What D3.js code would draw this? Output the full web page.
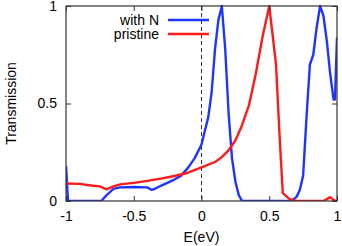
<!DOCTYPE html>
<html><head><meta charset="utf-8">
<script src="https://cdn.jsdelivr.net/npm/d3@7"></script>
<style>body{margin:0;background:#fff}svg{display:block}text{font-family:"Liberation Sans",Arial,sans-serif}</style>
</head><body>
<svg id="c" width="342" height="246"></svg>
<script>
const blueE = [-1.0,-0.985,-0.74,-0.70,-0.65,-0.6,-0.5,-0.4,-0.37,-0.35,-0.3,-0.2,-0.15,-0.1,-0.05,0.0,0.025,0.05,0.075,0.1,0.125,0.15,0.175,0.2,0.225,0.25,0.275,0.3,0.66,0.7,0.725,0.75,0.775,0.8,0.825,0.85,0.875,0.9,0.925,0.95,0.975,0.985,1.0];
const blueT = [0.18,0.0,0.0,0.03,0.062,0.07,0.072,0.07,0.058,0.06,0.078,0.11,0.13,0.17,0.22,0.29,0.36,0.43,0.56,0.78,0.93,1.0,0.78,0.45,0.22,0.1,0.03,0.0,0.0,0.02,0.055,0.13,0.43,0.70,0.75,0.89,1.0,0.95,0.82,0.65,0.52,0.52,0.84];
const redE = [-1.0,-0.9,-0.8,-0.75,-0.7,-0.65,-0.6,-0.5,-0.4,-0.3,-0.2,-0.1,0.0,0.1,0.15,0.2,0.25,0.3,0.35,0.4,0.45,0.5,0.55,0.575,0.6,0.65,0.7,0.9,0.95,0.985,1.0];
const redT = [0.09,0.088,0.078,0.075,0.06,0.075,0.085,0.093,0.103,0.115,0.128,0.145,0.172,0.2,0.225,0.26,0.31,0.39,0.49,0.65,0.84,1.0,0.7,0.35,0.04,0.01,0.0,0.0,0.02,0.0,0.0];
const xTicks = [-1,-0.5,0,0.5,1];
const xTickLabels = ["-1","-0.5","0","0.5","1"];
const yTicks = [0,0.5,1];
const yTickLabels = ["0","0.5","1"];
const seriesNames = ["with N","pristine"];
const seriesColors = ["#1f35ff","#ff1a1a"];

const svg = d3.select("#c");
const L=66, R=337, T=6, B=201;
const x = d3.scaleLinear().domain([-1,1]).range([L,R]);
const y = d3.scaleLinear().domain([0,1]).range([B,T]);

// zero dashed line
svg.append("line").attr("x1",x(0)).attr("x2",x(0)).attr("y1",T).attr("y2",B)
  .attr("stroke","#333").attr("stroke-width",1).attr("stroke-dasharray","4,3");

const line = d3.line().x(d=>x(d[0])).y(d=>y(d[1]));
const clip = svg.append("clipPath").attr("id","cp").append("rect").attr("x",L).attr("y",T-2).attr("width",R-L).attr("height",B-T+2);

const series = [d3.zip(blueE,blueT), d3.zip(redE,redT)];
// draw red first? blue on top at bottom region in reference; red drawn over blue near zero on right
svg.append("path").datum(series[0]).attr("d",line).attr("fill","none")
  .attr("stroke",seriesColors[0]).attr("stroke-width",2.4).attr("stroke-linejoin","round").attr("clip-path","url(#cp)");
svg.append("path").datum(series[1]).attr("d",line).attr("fill","none")
  .attr("stroke",seriesColors[1]).attr("stroke-width",2.4).attr("stroke-linejoin","round").attr("clip-path","url(#cp)");

// frame
svg.append("rect").attr("x",L).attr("y",T).attr("width",R-L).attr("height",B-T)
  .attr("fill","none").attr("stroke","#333").attr("stroke-width",1.2);

// ticks (inward, mirrored)
const axB = d3.axisBottom(x).tickValues(xTicks).tickSize(-5).tickFormat((d,i)=>xTickLabels[i]).tickPadding(10);
const gB = svg.append("g").attr("transform",`translate(0,${B})`).call(axB);
const axT = d3.axisTop(x).tickValues(xTicks).tickSize(-5).tickFormat("");
const gT = svg.append("g").attr("transform",`translate(0,${T})`).call(axT);
const axL = d3.axisLeft(y).tickValues(yTicks).tickSize(-5).tickFormat((d,i)=>yTickLabels[i]).tickPadding(9);
const gL = svg.append("g").attr("transform",`translate(${L},0)`).call(axL);
const axR = d3.axisRight(y).tickValues(yTicks).tickSize(-5).tickFormat("");
const gR = svg.append("g").attr("transform",`translate(${R},0)`).call(axR);
[gB,gT,gL,gR].forEach(g=>{
  g.select(".domain").remove();
  g.selectAll(".tick line").attr("stroke","#333");
  g.selectAll("text").attr("font-size",14).attr("fill","#000").attr("font-family","Liberation Sans, Arial, sans-serif");
});

// axis titles
svg.append("text").attr("x",x(0)).attr("y",242).attr("text-anchor","middle").attr("font-size",14).text("E(eV)");
svg.append("text").attr("transform",`translate(16,${(T+B)/2}) rotate(-90)`).attr("text-anchor","middle").attr("font-size",14).text("Transmission");

// legend
const legY=[20,34];
seriesNames.forEach((n,i)=>{
  svg.append("text").attr("x",159).attr("y",legY[i]+5).attr("text-anchor","end").attr("font-size",14).text(n);
  svg.append("line").attr("x1",168).attr("x2",209).attr("y1",legY[i]).attr("y2",legY[i])
    .attr("stroke",seriesColors[i]).attr("stroke-width",2.4);
});
</script>
</body></html>
